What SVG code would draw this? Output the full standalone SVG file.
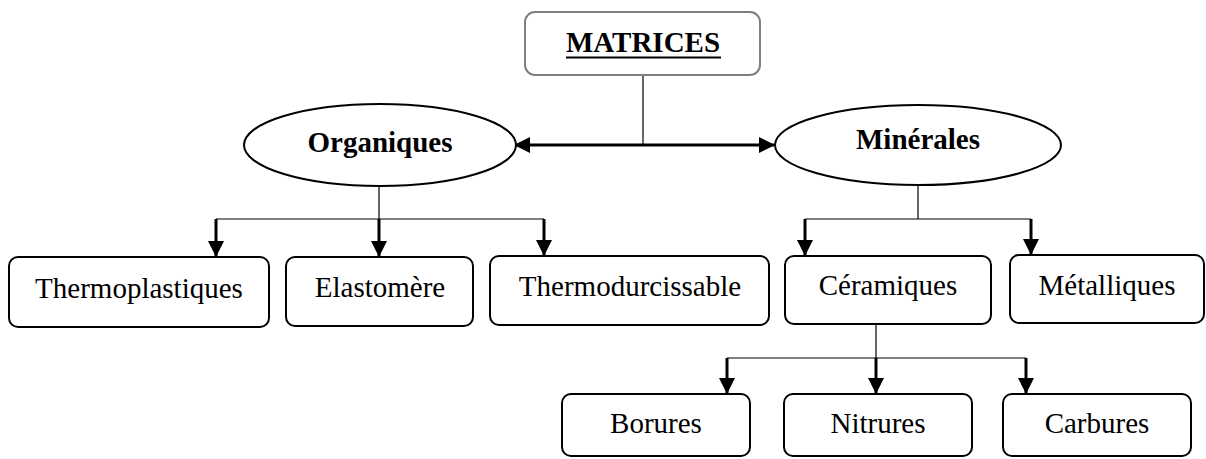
<svg xmlns="http://www.w3.org/2000/svg" width="1206" height="459" viewBox="0 0 1206 459">
<style>
.box{fill:#fff;stroke:#000;stroke-width:2}
.ell{fill:#fff;stroke:#000;stroke-width:2}
.t{font-family:"Liberation Serif","Times New Roman",serif;font-size:29px;fill:#000;text-anchor:middle}
.b{font-weight:bold}
.thin{fill:none;stroke:#000;stroke-width:1.2}
.arr{fill:none;stroke:#000;stroke-width:3;marker-end:url(#ah)}
</style>
<defs>
<marker id="ah" markerUnits="userSpaceOnUse" markerWidth="18" markerHeight="18" refX="15" refY="8" orient="auto-start-reverse" viewBox="0 0 18 18">
<path d="M0,0 L16,8 L0,16 z" fill="#000"/>
</marker>
</defs>
<g id="connectors">
<line class="thin" x1="643" y1="75" x2="643" y2="145"/>
<line x1="515" y1="145" x2="774" y2="145" stroke="#000" stroke-width="3" marker-start="url(#ah)" marker-end="url(#ah)"/>
<line class="thin" x1="379" y1="186" x2="379" y2="219"/>
<line class="thin" x1="216" y1="219" x2="544" y2="219"/>
<line class="arr" x1="216" y1="219" x2="216" y2="256"/>
<line class="arr" x1="379" y1="219" x2="379" y2="256"/>
<line class="arr" x1="544" y1="219" x2="544" y2="255"/>
<line class="thin" x1="918" y1="185" x2="918" y2="219"/>
<line class="thin" x1="805" y1="219" x2="1031" y2="219"/>
<line class="arr" x1="805" y1="219" x2="805" y2="255"/>
<line class="arr" x1="1031" y1="219" x2="1031" y2="254"/>
<line class="thin" x1="876" y1="324" x2="876" y2="358"/>
<line class="thin" x1="727" y1="358" x2="1026" y2="358"/>
<line class="arr" x1="727" y1="358" x2="727" y2="393"/>
<line class="arr" x1="876" y1="358" x2="876" y2="393"/>
<line class="arr" x1="1026" y1="358" x2="1026" y2="393"/>
</g>
<g id="matrices">
<rect x="525" y="12" width="235" height="63" rx="10" fill="#fff" stroke="#808080" stroke-width="2"/>
<text class="t b" x="643" y="52">MATRICES</text>
<line x1="566" y1="57.5" x2="721" y2="57.5" stroke="#000" stroke-width="2.2"/>
</g>
<g id="organiques">
<ellipse class="ell" cx="380" cy="145" rx="136" ry="41"/>
<text class="t b" x="380" y="152">Organiques</text>
</g>
<g id="minerales">
<ellipse class="ell" cx="918" cy="145" rx="143" ry="40"/>
<text class="t b" x="918" y="149">Minérales</text>
</g>
<g id="thermoplastiques">
<rect class="box" x="9" y="257" width="260" height="70" rx="9"/>
<text class="t" x="139" y="298">Thermoplastiques</text>
</g>
<g id="elastomere">
<rect class="box" x="286" y="257" width="187" height="69" rx="9"/>
<text class="t" x="380" y="297">Elastomère</text>
</g>
<g id="thermodurcissable">
<rect class="box" x="490" y="256" width="279" height="69" rx="9"/>
<text class="t" x="630" y="296">Thermodurcissable</text>
</g>
<g id="ceramiques">
<rect class="box" x="785" y="256" width="206" height="68" rx="9"/>
<text class="t" x="888" y="295">Céramiques</text>
</g>
<g id="metalliques">
<rect class="box" x="1010" y="255" width="194" height="68" rx="9"/>
<text class="t" x="1107" y="295">Métalliques</text>
</g>
<g id="borures">
<rect class="box" x="562" y="394" width="188" height="62" rx="9"/>
<text class="t" x="656" y="433">Borures</text>
</g>
<g id="nitrures">
<rect class="box" x="784" y="394" width="188" height="62" rx="9"/>
<text class="t" x="878" y="433">Nitrures</text>
</g>
<g id="carbures">
<rect class="box" x="1003" y="394" width="188" height="62" rx="9"/>
<text class="t" x="1097" y="433">Carbures</text>
</g>
</svg>
